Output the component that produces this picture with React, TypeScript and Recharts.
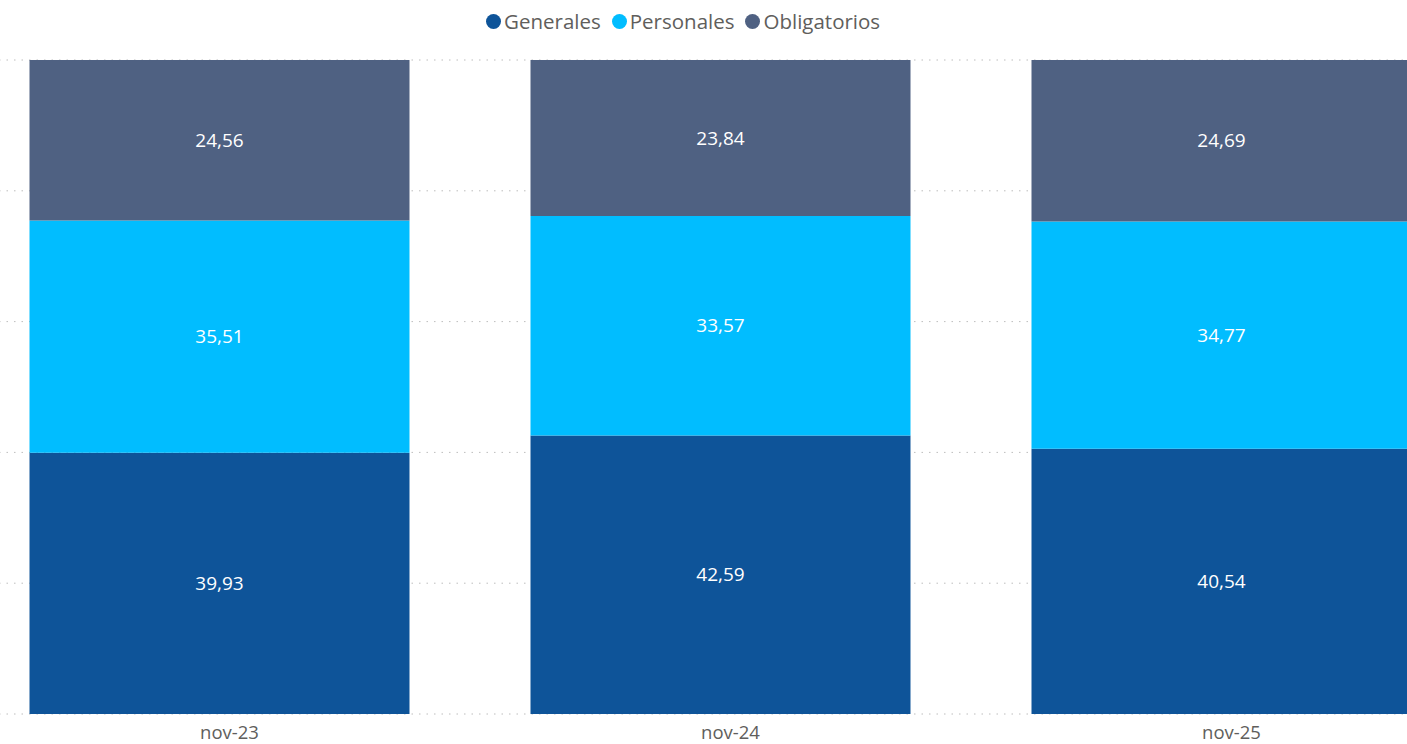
import { BarChart, Bar, XAxis, YAxis, CartesianGrid, LabelList } from 'recharts';

const periods = ['nov-23', 'nov-24', 'nov-25'];
const generales = [39.93, 42.59, 40.54];
const personales = [35.51, 33.57, 34.77];
const obligatorios = [24.56, 23.84, 24.69];

const seriesNames = ['Generales', 'Personales', 'Obligatorios'];
const seriesColors = ['#0E5499', '#01BDFF', '#4F6182'];

const FONT = '"Segoe UI", "Open Sans", sans-serif';
const TEXT_GREY = '#605E5C';

const fmt = (v: any) => Number(v).toFixed(2).replace('.', ',');

function LegendRow() {
    return (
        <div style={{ display: 'flex', alignItems: 'center', fontFamily: FONT, fontSize: 20.5, color: TEXT_GREY, whiteSpace: 'nowrap' }}>
            {seriesNames.map((name, i) => (
                <div key={name} style={{ display: 'flex', alignItems: 'center', marginRight: 11 }}>
                    <span style={{ display: 'inline-block', width: 15, height: 15, borderRadius: '50%', background: seriesColors[i], marginRight: 3 }} />
                    <span>{name}</span>
                </div>
            ))}
        </div>
    );
}

export default function App() {
    const data = periods.map((p, i) => ({
        name: p,
        Generales: generales[i],
        Personales: personales[i],
        Obligatorios: obligatorios[i],
    }));

    return (
        <div style={{ position: 'fixed', top: 0, left: 0, width: 1407, height: 744, overflow: 'hidden', background: '#fff' }}>
            {/* legend sits above the plot, offset like the original */}
            <div style={{ position: 'absolute', top: 7, left: 486 }}>
                <LegendRow />
            </div>
            <div style={{ position: 'absolute', top: 0, left: -31.5 }}>
                <BarChart width={1503} height={744} data={data} margin={{ top: 60, right: 0, bottom: 0, left: 0 }} barCategoryGap={60.5}>
                    <CartesianGrid vertical={false} stroke="#BDBDBD" strokeDasharray="1.5 6" />
                    <XAxis dataKey="name" height={30} axisLine={false} tickLine={false} tickMargin={6}
                        tick={{ fontSize: 18.5, fill: TEXT_GREY, fontFamily: FONT, dx: 10 }} />
                    <YAxis hide domain={[0, 100]} ticks={[0, 20, 40, 60, 80, 100]} />
                    {seriesNames.map((name, i) => (
                        <Bar key={name} dataKey={name} stackId="a" fill={seriesColors[i]} isAnimationActive={false}>
                            <LabelList dataKey={name} position="center" formatter={fmt}
                                style={{ fill: '#fff', fontSize: 19, fontFamily: FONT }} />
                        </Bar>
                    ))}
                </BarChart>
            </div>
        </div>
    );
}
